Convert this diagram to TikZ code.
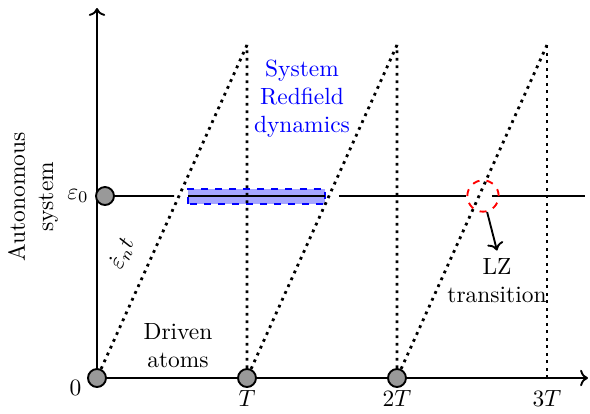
\documentclass[tikz,border=0pt]{standalone}
\usepackage{amsmath, amssymb}
\usepackage{xcolor}
\usepackage{tikz}
\usetikzlibrary{arrows.meta, positioning, calc}

\begin{document}
\begin{tikzpicture}[scale=0.75,
  every node/.style={font=\normalsize},
  dot/.style={circle, draw, thick, fill=gray!80, minimum size=0.27cm, inner sep=0pt},
  ramp/.style={very thick, dotted}]

  \useasboundingbox (-1.94,-0.7) rectangle (9.86,7.56);

  % ---------- Axes ----------
  \draw[->, thick] (0,0) -- (9.82,0);
  \draw[->, thick] (0,0) -- (0,7.4);
  \node[rotate=90, align=center] (auto) at (-1.28,3.62) {Autonomous\\ system};

  % ---------- Redfield window ----------
  \draw[blue, thick, dashed, fill=blue!35] (1.82,3.48) rectangle (4.56,3.78);

  % ---------- Atoms level ----------
  \node[dot] (e0) at (0.16,3.64) {};
  \node[left=0pt] at (0,3.64) {$\varepsilon_0$};
  \coordinate (g1) at (1.54,3.64);
  \draw[thick] (e0) -- (g1);
  \foreach \a/\b in {1.82/4.56, 4.84/7.38, 7.9/9.76}{
    \draw[thick] (\a,3.64) -- (\b,3.64);
  }

  % ---------- Driven atoms ----------
  \foreach \k in {0,1,2}{
    \node[dot] (t\k) at ({3*\k},0) {};
    \coordinate (top\k) at ({3*\k+3},6.66);
  }
  \coordinate (t3) at (9,0);
  \node[left=1pt] at (-0.1,-0.2) {$0$};
  \foreach \k/\l in {1/T, 2/2T, 3/3T}{
    \node[below=2pt] at ({3*\k},0) {$\l$};
  }
  \draw[ramp] (t0) -- node[sloped, above=4pt, pos=0.32] {$\dot{\varepsilon}_n t$} (top0);
  \draw[ramp] (t1) -- (top1);
  \draw[ramp] (t2) -- (top2);
  \draw[ramp] (t1) -- (top0);
  \draw[ramp] (t2) -- (top1);
  \draw[ramp] (t3) -- (top2);

  % ---------- Labels ----------
  \node[align=center] (driven) at (1.62,0.64) {Driven\\ atoms};
  \node[blue, align=center] (redfield) at (4.1,5.58) {System\\ Redfield\\ dynamics};
  \node[draw=red, thick, dashed, circle, minimum size=0.47cm, inner sep=0pt] (lz) at (7.72,3.64) {};
  \node[align=center] (lztext) at (8.0,1.94) {LZ\\ transition};
  \draw[->, thick] (lz) -- (lztext.north);
\end{tikzpicture}
\end{document}
